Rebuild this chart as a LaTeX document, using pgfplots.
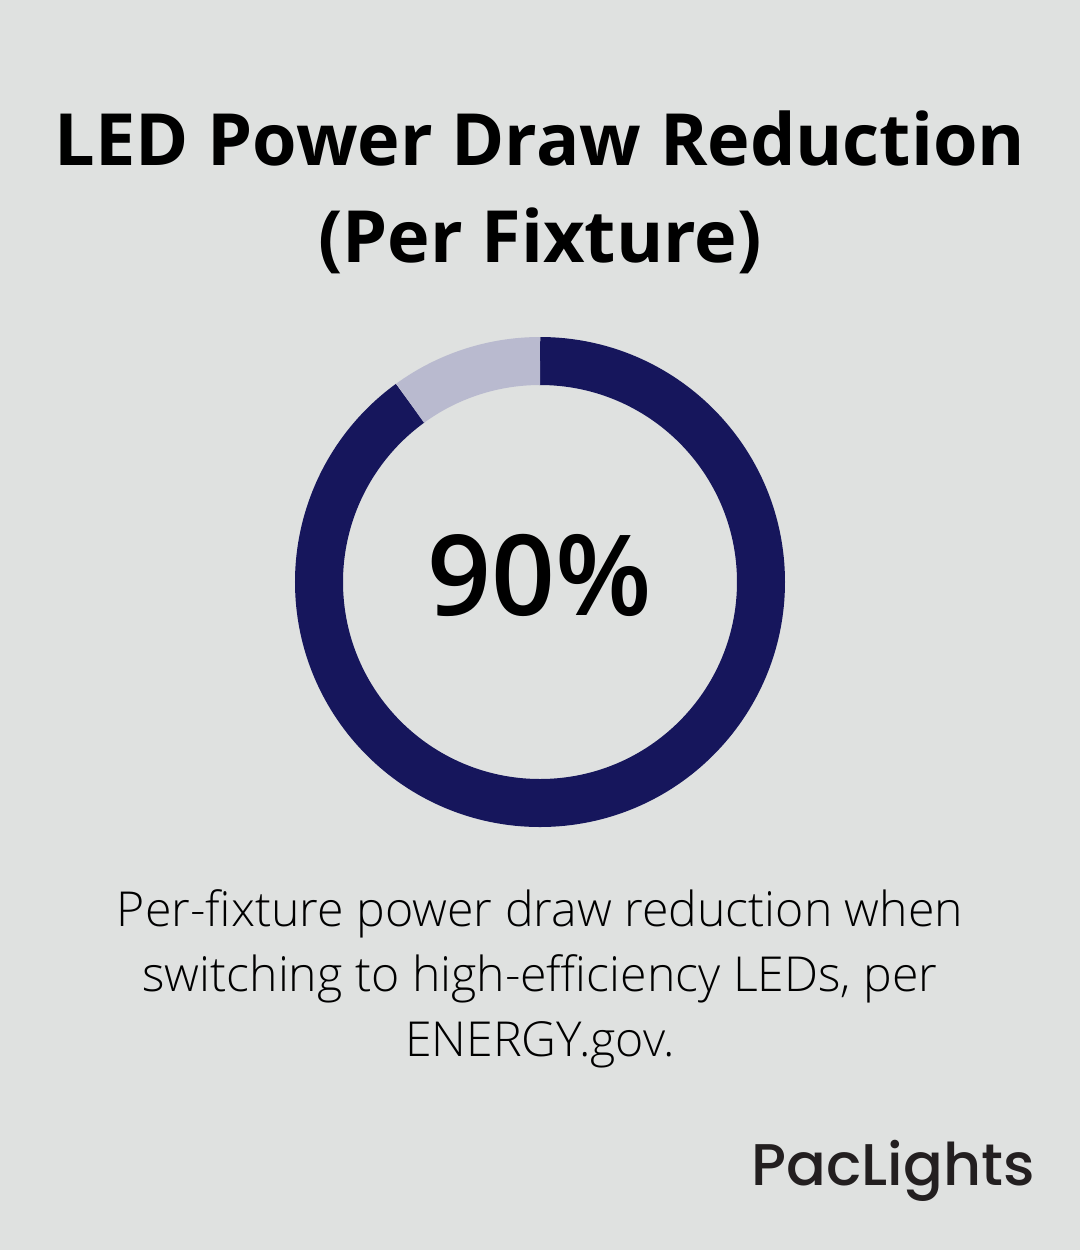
\documentclass[border=0pt]{standalone}
\usepackage{fontspec}
\usepackage{pgfplots}
\usepackage{pgfplotstable}
\pgfplotsset{compat=1.18}
\setmainfont{Open Sans}
\IfFontExistsTF{Open Sans Light}{\newfontfamily\lightfont{Open Sans Light}}{\newfontfamily\lightfont{Open Sans}}
\IfFontExistsTF{Open Sans Semibold}{\newfontfamily\semifont{Open Sans Semibold}}{%
  \newfontfamily\semifont{Open Sans}[FakeBold=2.2]}
\newfontfamily\logofont{Poppins}[UprightFont=*-Medium]
\definecolor{bg}{HTML}{DFE1E0}
\definecolor{navy}{HTML}{16165C}
\definecolor{lilac}{HTML}{B9BACF}
\definecolor{ink}{HTML}{000000}
\definecolor{logoink}{HTML}{231F20}

\pgfplotstableread{
label value
LED 90
Rest 10
}\donutdata

\begin{document}
\begin{tikzpicture}
\pgfplotstablegetelem{0}{value}\of\donutdata
\pgfmathtruncatemacro{\ledval}{\pgfplotsretval}
\pgfmathsetmacro{\endang}{90-3.6*\ledval}
\begin{axis}[
  width=540pt, height=625pt, scale only axis,
  xmin=0, xmax=1080, ymin=0, ymax=1250, y dir=reverse,
  hide axis, clip=false,
]
  \fill[bg] (axis cs:0,0) rectangle (axis cs:1080,1250);
  % donut ring
  \draw[navy, line width=24pt] (axis cs:540,582) ++(90:110.5pt)
    arc[start angle=90, end angle=\endang, radius=110.5pt];
  \draw[lilac, line width=24pt] (axis cs:540,582) ++(90:110.5pt)
    arc[start angle=90, end angle=\endang+360, radius=110.5pt];
  \node[font=\semifont\fontsize{56}{60}\selectfont, text=ink, anchor=base] at (axis cs:540,615) {\ledval\%};
  % title
  \node[font=\bfseries\fontsize{36}{48.5}\selectfont, text=ink, align=center, anchor=base]
    at (axis cs:540,262) {LED Power Draw Reduction\\(Per Fixture)};
  % caption
  \node[font=\lightfont\fontsize{24.1}{32.5}\selectfont, text=ink, align=center, anchor=base]
    at (axis cs:540,1056) {Per-fixture power draw reduction when\\switching to high-efficiency LEDs, per\\ENERGY.gov.};
  % logo
  \node[font=\logofont\fontsize{29.4}{32}\selectfont, text=logoink, anchor=base east, inner sep=0pt]
    at (axis cs:1035,1185) {PacLights};
\end{axis}
\end{tikzpicture}
\end{document}
